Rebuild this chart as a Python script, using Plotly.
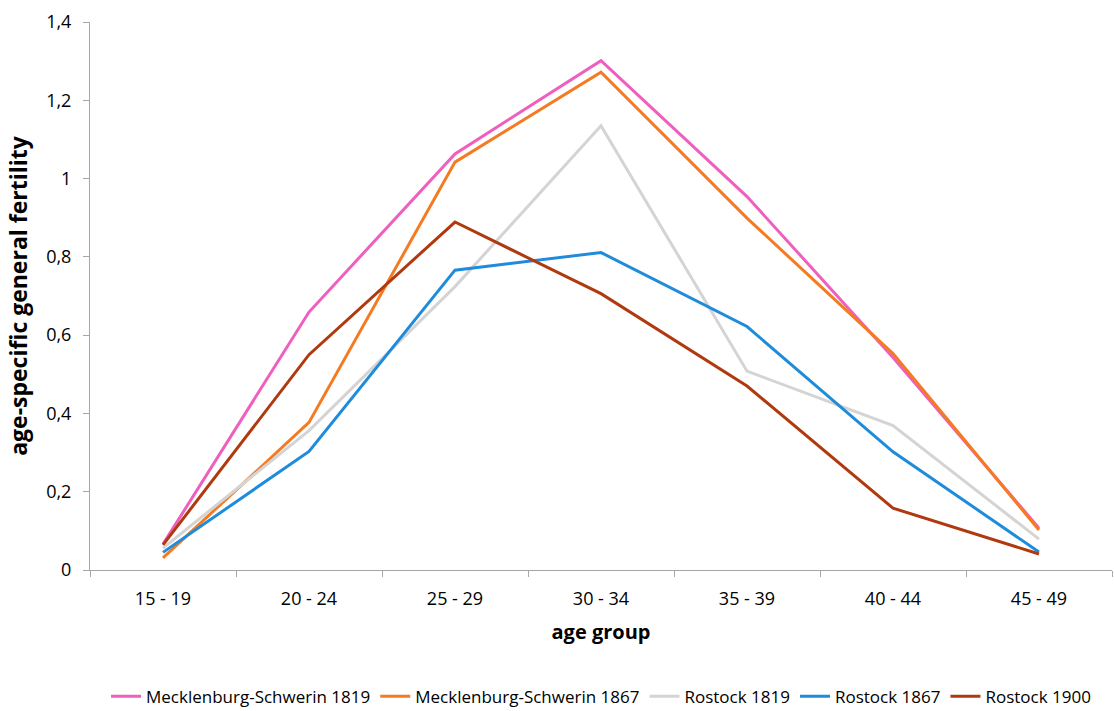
import plotly.graph_objects as go

age_groups = ["15 - 19", "20 - 24", "25 - 29", "30 - 34", "35 - 39", "40 - 44", "45 - 49"]

meck_1819 = [0.066, 0.659, 1.063, 1.301, 0.954, 0.543, 0.107]
meck_1867 = [0.031, 0.377, 1.042, 1.272, 0.899, 0.553, 0.102]
rostock_1819 = [0.056, 0.356, 0.724, 1.135, 0.508, 0.369, 0.079]
rostock_1867 = [0.045, 0.303, 0.766, 0.811, 0.622, 0.302, 0.046]
rostock_1900 = [0.064, 0.550, 0.889, 0.706, 0.470, 0.158, 0.041]

series = [
    ("Mecklenburg-Schwerin 1819", meck_1819, "#EF5FBE"),
    ("Mecklenburg-Schwerin 1867", meck_1867, "#F47B22"),
    ("Rostock 1819", rostock_1819, "#D4D4D4"),
    ("Rostock 1867", rostock_1867, "#1E8CDB"),
    ("Rostock 1900", rostock_1900, "#B03A0F"),
]

fig = go.Figure()
for name, vals, color in series:
    fig.add_trace(go.Scatter(
        x=age_groups, y=vals, name=name, mode="lines",
        line=dict(color=color, width=3),
    ))

font_family = "'Open Sans', sans-serif"
fig.update_layout(
    width=1114, height=711,
    margin=dict(l=90, r=2, t=22, b=141, autoexpand=False),
    plot_bgcolor="white", paper_bgcolor="white",
    separators=",.",
    font=dict(family=font_family, size=18, color="#000000"),
    showlegend=True,
    legend=dict(orientation="h", x=0.5, xanchor="center",
                yref="container", y=0.02, yanchor="middle",
                font=dict(size=17), itemwidth=30, tracegroupgap=0),
    xaxis=dict(
        type="category", range=[-0.5, 6.5], tickson="boundaries",
        showline=True, linecolor="#A6A6A6", linewidth=1,
        ticks="outside", ticklen=6, tickcolor="#A6A6A6",
        ticklabelstandoff=12,
        showgrid=False, zeroline=False, automargin=False,
        title=dict(text="<b>age group</b>", font=dict(size=20), standoff=16),
    ),
    yaxis=dict(
        range=[0, 1.4], dtick=0.2,
        showline=True, linecolor="#A6A6A6", linewidth=1,
        ticks="outside", ticklen=6, tickcolor="#A6A6A6",
        ticklabelstandoff=8,
        showgrid=False, zeroline=False, automargin=False,
        title=dict(text="<b>age-specific general fertility</b>", font=dict(size=23), standoff=12),
    ),
)

fig.write_html("out.html")
